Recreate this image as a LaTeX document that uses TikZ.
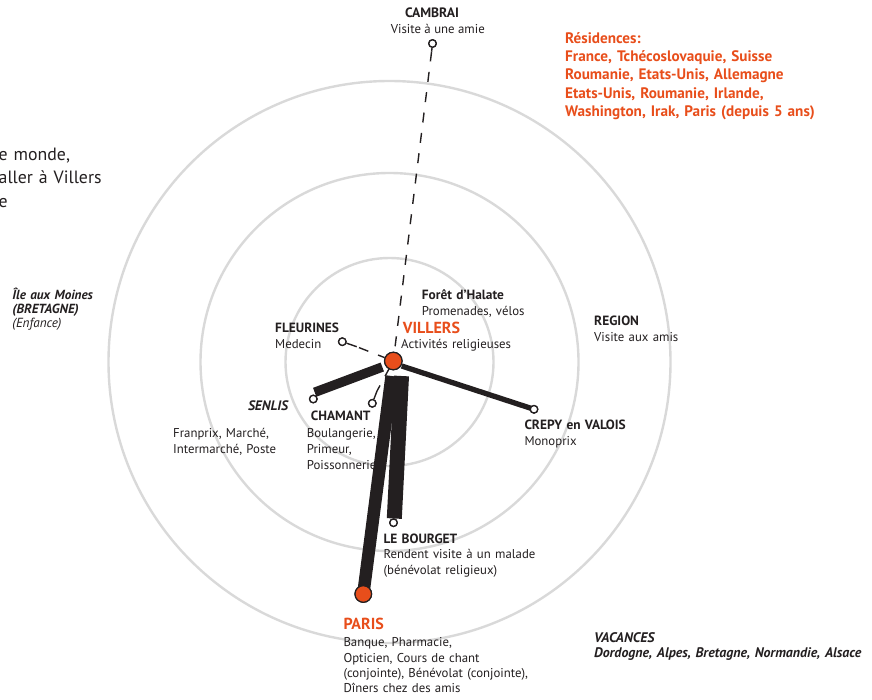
\documentclass[tikz,border=0pt]{standalone}
\usepackage{fontspec}
\setmainfont{PT Sans}
\definecolor{ink}{HTML}{231F20}
\definecolor{accent}{HTML}{E84E1B}
\definecolor{ringgray}{HTML}{D9D9D9}
\newcommand\lblhead[1]{{\fontsize{13.4}{16}\selectfont\bfseries #1}}
\tikzset{
  ring/.style={draw=ringgray, line width=2.4pt},
  txt/.style={inner sep=0, text=ink, anchor=base west, align=left, text width=320pt},
  body/.style={txt, font=\fontsize{12.8}{16}\selectfont},
  ctxt/.style={inner sep=0, text=ink, anchor=base},
  bar/.style={draw=ink, line cap=butt},
  dashline/.style={draw=ink, line width=1.4pt, dash pattern=on 10pt off 10.5pt},
  stemline/.style={draw=ink, line width=1.4pt},
  pinnode/.style={circle, draw=ink, fill=white, line width=1.3pt, minimum size=7.5pt, inner sep=0},
  bigdot/.style={circle, fill=accent, draw=ink, line width=1.2pt, inner sep=0},
}
\begin{document}
\begin{tikzpicture}[x=1pt,y=-1pt]
\useasboundingbox (0,0) rectangle (872,700);
\clip (0,0) rectangle (872,700);
% rings
\coordinate (ctr) at (389.5,362);
\draw[ring] (ctr) circle[radius=104pt];
\draw[ring] (ctr) circle[radius=189pt];
\draw[ring] (ctr) circle[radius=281pt];

% texts
\node[txt, font=\fontsize{17.8}{23.3}\selectfont] (intro) at (-1.5,160.7) {e monde,\\aller à Villers\\e};
\node[txt, font=\bfseries\fontsize{15.2}{18.3}\selectfont, text=accent] (resid) at (565,43.3)
  {Résidences:\\France, Tchécoslovaquie, Suisse\\Roumanie, Etats-Unis, Allemagne\\Etats-Unis, Roumanie, Irlande,\\Washington, Irak, Paris (depuis 5 ans)};
\node[ctxt, font=\bfseries\fontsize{13.6}{16}\selectfont] (cambT) at (432,17.3) {CAMBRAI};
\node[ctxt, font=\fontsize{12.8}{16}\selectfont] (cambS) at (437.8,34) {Visite à une amie};
\node[txt, font=\fontsize{13.2}{14}\selectfont] (ile) at (12.3,299.3)
  {\textbf{\textit{Île aux Moines}}\\\textbf{\textit{(BRETAGNE)}}\\\textit{(Enfance)}};
\node[body] (foret) at (421.7,300) {\lblhead{Forêt d'Halate}\\Promenades, vélos};
\node[body] (region) at (594,325.5) {\lblhead{REGION}\\Visite aux amis};
\node[body] (fleur) at (275,332.7) {\lblhead{FLEURINES}\\Medecin};
\node[txt, font=\bfseries\fontsize{16}{18}\selectfont, text=accent] (villT) at (402.7,334) {VILLERS};
\node[body] (villS) at (401,348.3) {Activités religieuses};
\node[inner sep=0, text=ink, anchor=base east, font=\bfseries\itshape\fontsize{13.7}{16}\selectfont] (senlis) at (288.3,410) {SENLIS};
\node[body] (senlisS) at (173,437.3) {Franprix, Marché,\\Intermarché, Poste};
\node[body] (chamT) at (310.7,420.7) {\lblhead{CHAMANT}};
\node[body] (chamS) at (306.7,437.3) {Boulangerie,\\Primeur,\\Poissonnerie};
\node[body] (crepy) at (524.3,429) {\lblhead{CREPY en VALOIS}\\Monoprix};
\node[txt, font=\fontsize{12.8}{15.5}\selectfont] (bourget) at (383.3,543.3) {\lblhead{LE BOURGET}\\Rendent visite à un malade\\(bénévolat religieux)};
\node[txt, font=\bfseries\fontsize{16}{18}\selectfont, text=accent] (parisT) at (343.3,629.3) {PARIS};
\node[txt, font=\fontsize{12.8}{15.4}\selectfont] (parisS) at (343.3,646.7) {Banque, Pharmacie,\\Opticien, Cours de chant\\(conjointe), Bénévolat (conjointe),\\Dîners chez des amis};
\node[txt, font=\bfseries\itshape\fontsize{13.9}{14.7}\selectfont] (vac) at (594,642.7) {VACANCES\\Dordogne, Alpes, Bretagne, Normandie, Alsace};

% main places
\node[bigdot, minimum size=17.5pt] (villers) at (393.3,361) {};
\node[bigdot, minimum size=16.6pt] (paris) at (363.3,594) {};

% pins (positions)
\node[pinnode] (cambPin) at (432.5,43.5) {};
\coordinate (cambStem) at (431.6,51.5);
\node[pinnode] (fleurPin) at (342.3,341.7) {};
\coordinate (fleurStem) at (356.7,346.7);
\node[pinnode] (chamPin) at (372.3,403.3) {};
\coordinate (chamStem) at (377,391);
\node[pinnode] (senPin) at (313.3,399) {};
\node[pinnode] (crepyPin) at (534,409.3) {};
\node[pinnode] (bourgPin) at (393.5,522.7) {};

% bars
\coordinate (senA) at (382.3,367);
\coordinate (senB) at (314.7,392.3);
\coordinate (crA) at (401.7,366);
\coordinate (bgA) at (401.5,376);
\coordinate (bgB) at (394.3,518.5);
\coordinate (paA) at (391.6,376);
\draw[bar, line width=9.5pt] (senA) -- (senB);
\draw[bar, line width=5.3pt] (crA) -- (crepyPin.center);
\draw[bar, line width=15pt] (bgA) -- (bgB);
\draw[bar, line width=12.5pt] (paA) -- (paris.center);

% dashed links
\draw[dashline] (cambStem) -- (villers);
\draw[stemline] (cambPin) -- (cambStem);
\draw[dashline, dash phase=3pt] (villers) -- (fleurStem);
\draw[stemline] (fleurPin) -- (fleurStem);
\draw[dashline, dash phase=2pt] (villers) -- (chamStem);
\draw[stemline] (chamPin) -- (chamStem);

% redraw dots and pins on top
\node[bigdot, minimum size=17.5pt] at (villers.center) {};
\node[bigdot, minimum size=16.6pt] at (paris.center) {};
\node[pinnode] at (cambPin.center) {};
\node[pinnode] at (fleurPin.center) {};
\node[pinnode] at (chamPin.center) {};
\node[pinnode] at (senPin.center) {};
\node[pinnode] at (crepyPin.center) {};
\node[pinnode] at (bourgPin.center) {};
\end{tikzpicture}
\end{document}
